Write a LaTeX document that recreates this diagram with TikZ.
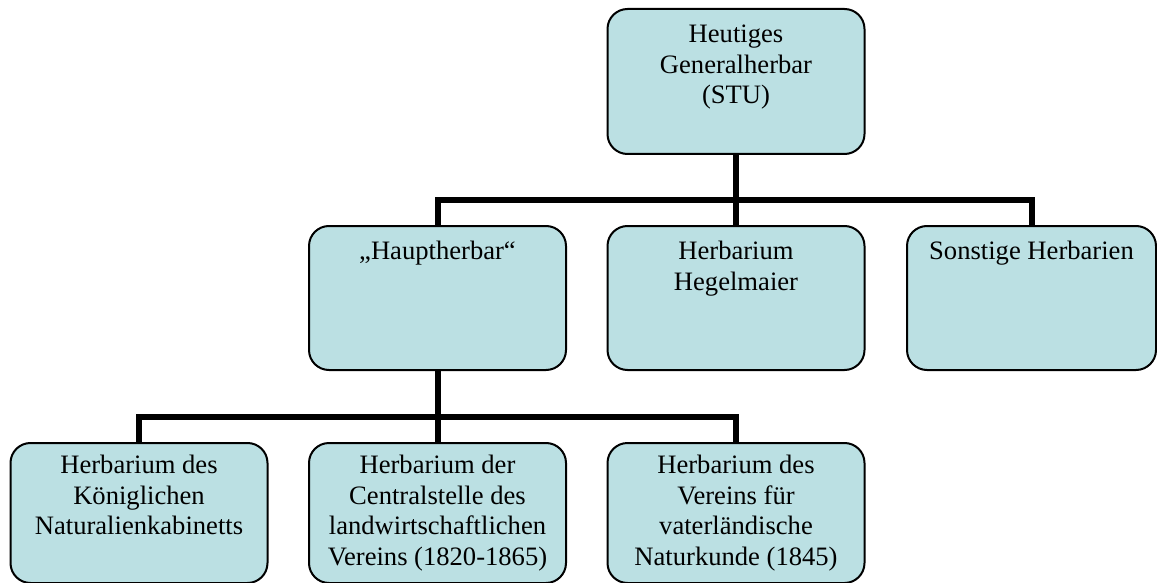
\documentclass[tikz,border=0pt]{standalone}
\usepackage{fontspec}
\setmainfont{Liberation Serif}
\definecolor{boxfill}{RGB}{187,224,227}
\newcommand{\orgtext}[2][60pt]{\parbox[t][#1][t]{118pt}{\centering\strut #2}}

\begin{document}
\begin{tikzpicture}[x=0.5pt, y=-0.5pt,
    orgbox/.style={draw, line width=1pt, fill=boxfill, rounded corners=10pt, anchor=north,
      minimum width=128.5pt, inner xsep=3pt, inner ysep=6pt, font=\fontsize{13.3}{15.3}\selectfont},
    branch/.style={line width=3pt}
  ]
  \useasboundingbox[fill=white] (0,0) rectangle (1157,583);

  \node[orgbox] (stu) at (736,8) {\orgtext[60.5pt]{Heutiges\\Generalherbar\\(STU)}};

  \node[orgbox] (haupt) at (437.5,225) {\orgtext{„Hauptherbar“}};
  \node[orgbox] (hegel) at (736,225) {\orgtext{Herbarium\\Hegelmaier}};
  \node[orgbox, minimum width=124.5pt] (sonst) at (1031.5,225) {\orgtext{Sonstige Herbarien}};

  % bottom row
  \node[orgbox, inner ysep=4.5pt] (kgl) at (139,442) {\orgtext[61pt]{Herbarium des\\Königlichen\\Naturalienkabinetts}};
  \node[orgbox, inner ysep=4.5pt] (zentral) at (437.5,442) {\orgtext[61pt]{Herbarium der\\Centralstelle des\\landwirtschaftlichen\\Vereins (1820-1865)}};
  \node[orgbox, inner ysep=4.5pt] (verein) at (736,442) {\orgtext[61pt]{Herbarium des\\Vereins für\\vaterländische\\Naturkunde (1845)}};

  \coordinate (bus1) at (736,200);
  \coordinate (bus2) at (437.5,417);

  \draw[branch] (stu.south) -- (hegel.north);
  \draw[branch] (haupt.north) |- (bus1) -| (sonst.north);
  \draw[branch] (haupt.south) -- (zentral.north);
  \draw[branch] (kgl.north) |- (bus2) -| (verein.north);
\end{tikzpicture}
\end{document}
